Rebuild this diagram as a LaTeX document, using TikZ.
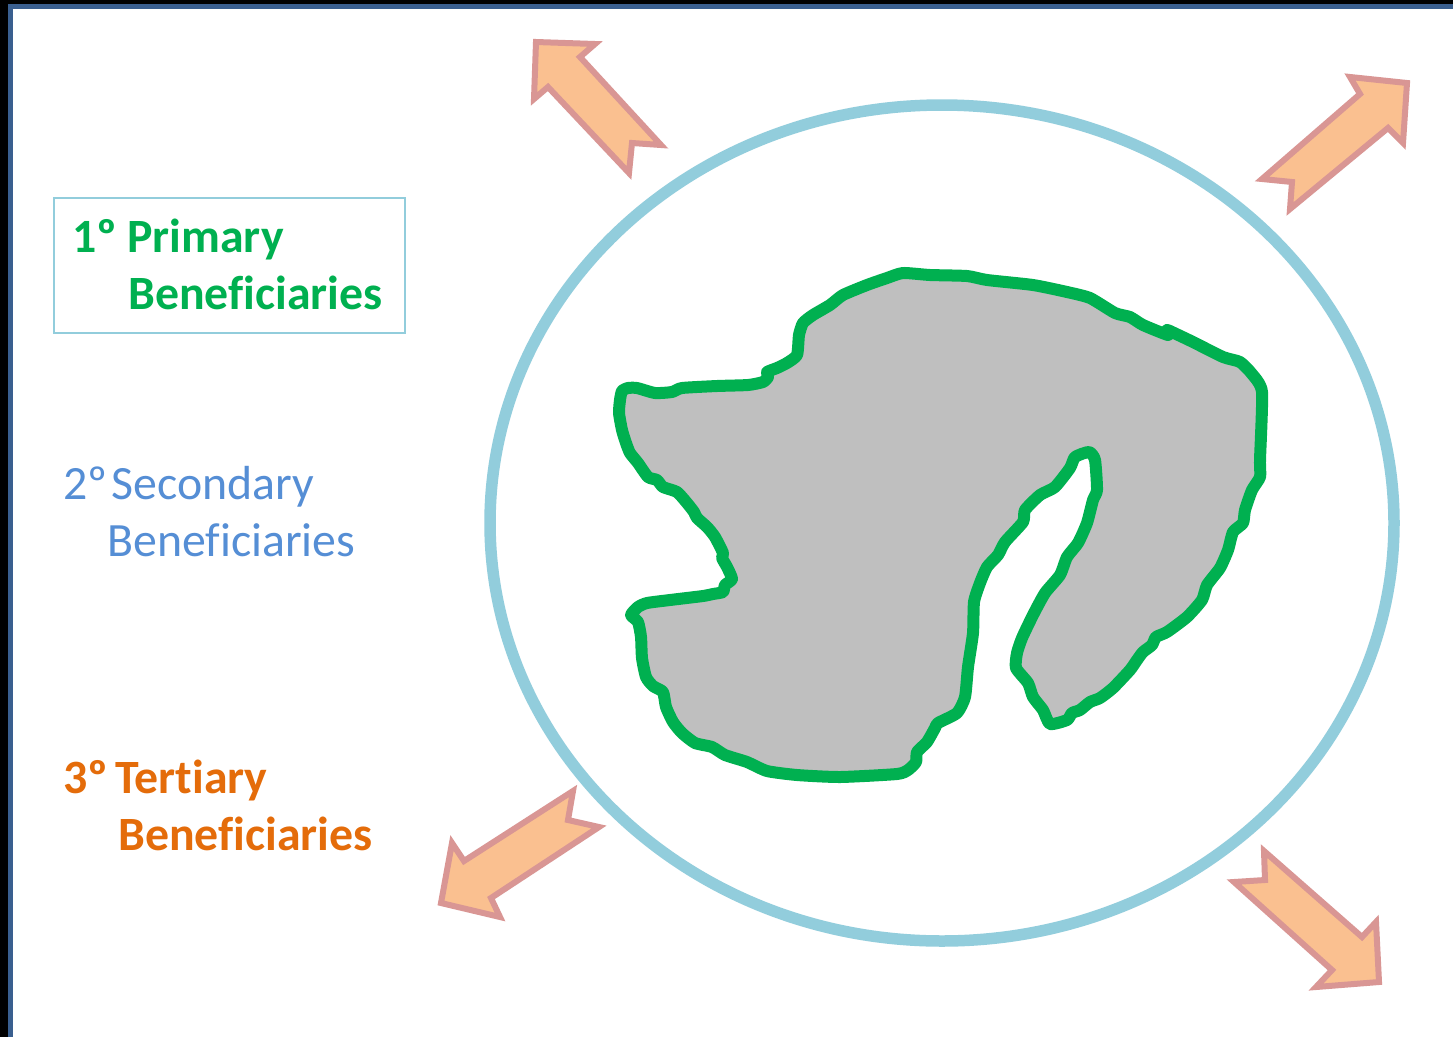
\documentclass[tikz,border=0pt]{standalone}
\usepackage{fontspec}
\usetikzlibrary{shapes.geometric}
\setmainfont[Ligatures=NoCommon]{Carlito}
\definecolor{ringblue}{HTML}{92CDDC}
\definecolor{arrowfill}{HTML}{FAC090}
\definecolor{arrowline}{HTML}{D99694}
\definecolor{blobgrey}{HTML}{BFBFBF}
\definecolor{primarygreen}{HTML}{00B050}
\definecolor{secondblue}{HTML}{558ED5}
\definecolor{thirdorange}{HTML}{E46C0A}
\definecolor{frameblue}{HTML}{3A5F8F}
\tikzset{
  outarrow/.style={fill=arrowfill,draw=arrowline,line width=6pt,miter limit=12},
  lab/.style={anchor=base west,inner sep=0pt,align=left,font=\fontsize{47.8}{57}\selectfont},
  labbold/.style={lab,font=\fontsize{47.8}{57}\selectfont\bfseries},
}
\begin{document}
\begin{tikzpicture}[x=1pt,y=-1pt]
\useasboundingbox (0,0) rectangle (1453,1037);
\fill[white] (0,0) rectangle (1453,1037);
% frame
\fill[black] (0,0) rectangle (1453,4);
\fill[black] (0,0) rectangle (8,1037);
\fill[frameblue] (8,4) rectangle (1453,9);
\fill[frameblue] (8,4) rectangle (13,1037);
% ring
\node[draw=ringblue,line width=11.5pt,shape=ellipse,inner sep=0pt,minimum width=904pt,minimum height=836pt] (ring) at (942,523) {};
% blob
\draw[fill=blobgrey,draw=primarygreen,line width=12pt,line join=round]
 plot[smooth cycle,tension=0.35] coordinates {
 (903,273) (887,278) (867,285) (843,295) (830,305) (813,315) (803,323) (799,335) (797,355)
 (787,363) (777,368) (767,372) (768,377) (763,382) (748,385) (717,386) (682,388) (672,392)
 (655,393) (637,388) (628,388) (622,391) (620,400) (619,413) (622,430) (626,443) (630,453)
 (638,463) (648,477) (657,480) (663,487) (677,492) (687,503) (694,512) (697,518) (707,527)
 (715,537) (723,553) (722,558) (727,567) (732,579) (725,585) (723,592) (713,594) (703,596)
 (670,600) (647,603) (638,607) (631,615) (638,622) (641,637) (642,658) (646,677) (653,686)
 (663,692) (666,707) (673,722) (682,733) (695,743) (712,747) (725,755) (747,762) (767,771)
 (797,775) (840,777) (897,774) (908,770) (916,762) (917,752) (927,742) (935,728) (938,723)
 (957,713) (965,697) (968,667) (973,633) (974,602) (980,583) (987,567) (998,555) (1005,542)
 (1023,522) (1025,510) (1040,495) (1055,487) (1070,468) (1075,457) (1089,452) (1095,460)
 (1097,490) (1093,500) (1087,523) (1078,543) (1067,557) (1060,575) (1045,593) (1033,615)
 (1022,638) (1017,653) (1016,668) (1028,683) (1033,697) (1043,710) (1050,724) (1067,720)
 (1072,713) (1080,710) (1090,702) (1100,698) (1113,688) (1130,670) (1137,660)
 (1143,652) (1152,645) (1156,637) (1167,632) (1187,617) (1202,600) (1207,585) (1220,568)
 (1228,550) (1233,532) (1243,523) (1245,510) (1252,490) (1260,477) (1260,460) (1262,392)
 (1252,374) (1240,362) (1223,357) (1193,342) (1172,332) (1167,330) (1168,335) (1143,325)
 (1130,317) (1115,313) (1090,298) (1067,292) (1033,285) (987,280) (967,276) (930,275)
 };
% arrows
\draw[outarrow] (536,42) -- (595,44) -- (580,57) -- (661,145) -- (632,143) -- (629,173) -- (548,87) -- (534,99) -- cycle;
\draw[outarrow] (1407,83) -- (1350,77) -- (1360,94) -- (1262,179) -- (1292,182) -- (1290,209) -- (1388,128) -- (1403,143) -- cycle;
\draw[outarrow] (441,903) -- (452,843) -- (464,861) -- (573,791) -- (568,820) -- (599,827) -- (491,898) -- (500,917) -- cycle;
\draw[outarrow] (1379,982) -- (1316,987) -- (1332,970) -- (1234,882) -- (1265,880) -- (1264,851) -- (1362,937) -- (1376,922) -- cycle;
% legend
\node[draw=ringblue,line width=2pt,inner sep=0pt,minimum width=351pt,minimum height=135pt] (box) at (229,265) {};
\node[labbold,text=primarygreen] (t1) at (72,309) {1º\hspace{10pt}Primary\\\hspace*{56pt}Beneficiaries};
\node[lab,text=secondblue] (t2) at (63,556) {2º\hspace{4pt}Secondary\\\hspace*{44pt}Beneficiaries};
\node[labbold,text=thirdorange] (t3) at (63,850) {3º\hspace{7pt}Tertiary\\\hspace*{55pt}Beneficiaries};
\end{tikzpicture}
\end{document}
